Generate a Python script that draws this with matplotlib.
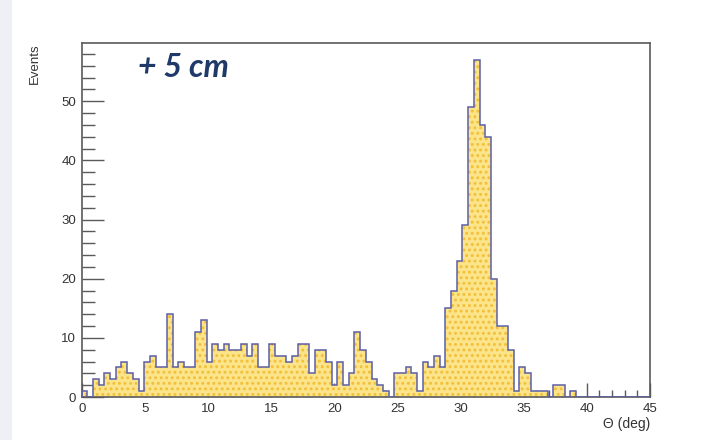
import numpy as np
import matplotlib
matplotlib.use("Agg")
import matplotlib.pyplot as plt
from matplotlib.ticker import MultipleLocator

# Histogram of polar angle, 100 bins over 0-45 deg
x_min, x_max, n_bins = 0.0, 45.0, 100
counts = [
    1, 0, 3, 2, 4, 3, 5, 6, 4, 3,        # 0.00 - 4.50
    1, 6, 7, 5, 5, 14, 5, 6, 5, 5,       # 4.50 - 9.00
    11, 13, 6, 9, 8, 9, 8, 8, 9, 7,      # 9.00 - 13.50
    9, 5, 5, 9, 7, 7, 6, 7, 9, 9,        # 13.50 - 18.00
    4, 8, 8, 6, 2, 6, 2, 4, 11, 8,       # 18.00 - 22.50
    6, 3, 2, 1, 0, 4, 4, 5, 4, 1,        # 22.50 - 27.00
    6, 5, 7, 5, 15, 18, 23, 29, 49, 57,  # 27.00 - 31.50
    46, 44, 20, 12, 12, 8, 1, 5, 4, 1,   # 31.50 - 36.00
    1, 1, 0, 2, 2, 0, 1, 0, 0, 0,        # 36.00 - 40.50
    0, 0, 0, 0, 0, 0, 0, 0, 0, 0,        # 40.50 - 45.00
]
x_label = "\u0398 (deg)"
y_label = "Events"
annotation = "+ 5 cm"

edges = np.linspace(x_min, x_max, n_bins + 1)
vals = np.asarray(counts, dtype=float)

W, H, DPI = 707, 440, 100
fig = plt.figure(figsize=(W / DPI, H / DPI), dpi=DPI)
fig.patch.set_facecolor("white")
# pale strip on the left edge
fig.patches.append(plt.Rectangle((0, 0), 12 / W, 1, transform=fig.transFigure,
                                 facecolor="#eef0f5", edgecolor="none", zorder=0))

ax = fig.add_axes([81.7 / W, 1 - 397 / H, (650 - 81.7) / W, (397 - 43) / H])
ax.set_xlim(x_min, x_max)
ax.set_ylim(0, max(counts) * 1.05)

plt.rcParams["hatch.linewidth"] = 1.3
ax.stairs(vals, edges, fill=True, facecolor="#fbe48a", edgecolor="#f2bf38",
          hatch="...", linewidth=0, zorder=2)
ax.stairs(vals, edges, color="#5d5fa8", linewidth=1.1, zorder=3)

frame_col = "#5a5a5a"
for s in ax.spines.values():
    s.set_color(frame_col)
    s.set_linewidth(1.2)

ax.xaxis.set_major_locator(MultipleLocator(5))
ax.xaxis.set_minor_locator(MultipleLocator(1))
ax.yaxis.set_major_locator(MultipleLocator(10))
ax.yaxis.set_minor_locator(MultipleLocator(2))
ax.tick_params(axis="both", which="both", direction="in", top=False, right=False,
               colors=frame_col, labelcolor="#333333", labelsize=9.5)
ax.tick_params(axis="x", which="major", length=10, width=1, pad=4)
ax.tick_params(axis="x", which="minor", length=5, width=1)
ax.tick_params(axis="y", which="major", length=16, width=1, pad=4)
ax.tick_params(axis="y", which="minor", length=9, width=1)
for lab in ax.get_xticklabels() + ax.get_yticklabels():
    lab.set_fontfamily("Liberation Sans")

fig.text(650 / W, 1 - 417 / H, x_label, ha="right", va="top",
         fontsize=10, color="#333333", family="Liberation Sans")
fig.text(35 / W, 1 - 43 / H, y_label, ha="center", va="top", rotation=90,
         fontsize=9.5, color="#333333", family="Liberation Sans")
fig.text(138 / W, 1 - 67 / H, annotation, ha="left", va="center",
         fontsize=23, color="#1f3a68", family="Lato",
         fontweight="bold", fontstyle="italic")

fig.savefig("out.png", dpi=DPI)
